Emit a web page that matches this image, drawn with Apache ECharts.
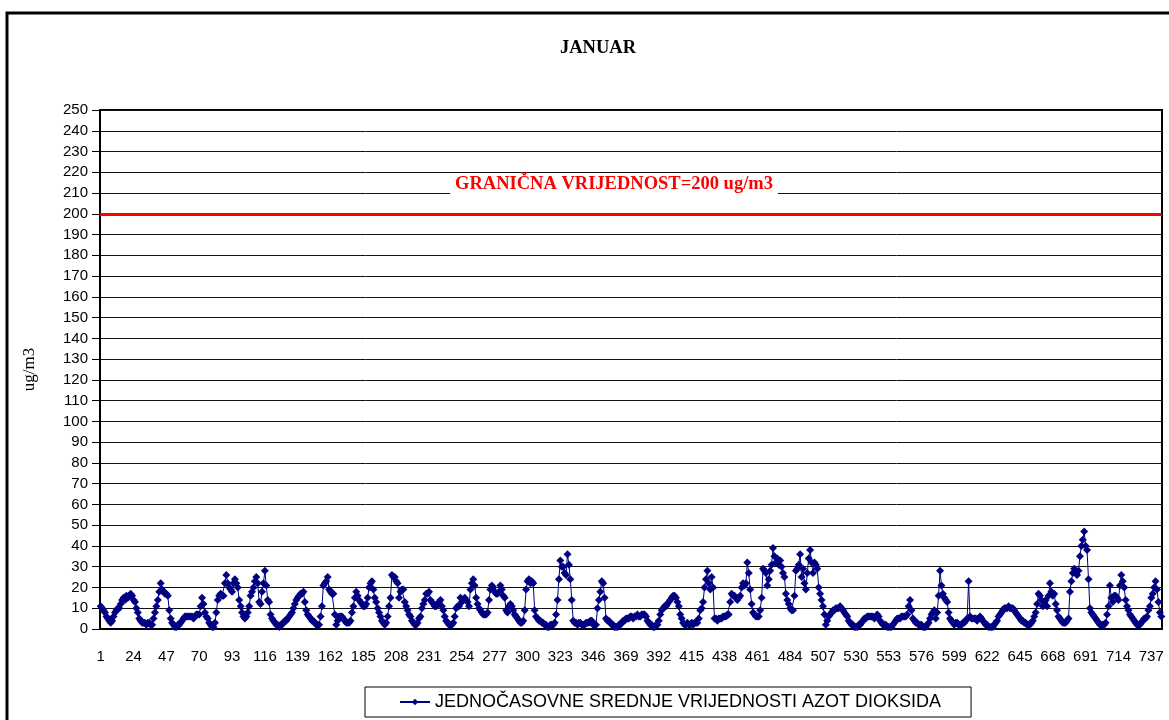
<!DOCTYPE html>
<html>
<head>
<meta charset="utf-8">
<title>JANUAR</title>
<script src="https://cdn.jsdelivr.net/npm/echarts@6/dist/echarts.min.js"></script>
<style>
    html, body { margin: 0; padding: 0; background: #fff; }
    #main { width: 1169px; height: 720px; }
</style>
</head>
<body>
<div id="main"></div>
<script>
    // hourly NO2 values (ug/m3), January in chunks
    const no2Part1 = [
        11, 10, 9, 8, 6, 5, 4, 3, 4, 6,
        8, 9, 10, 10, 12, 14, 15, 14, 16, 15,
        16, 17, 16, 14, 13, 10, 8, 5, 4, 3,
        3, 3, 2, 3, 3, 2, 2, 5, 8, 11,
        14, 18, 22, 19, 18, 17, 17, 16, 9, 5,
        3, 2, 1, 1, 2, 2, 3, 4, 5, 6,
        6, 6, 6, 6, 6, 5, 6, 7, 7, 7,
        11, 15, 12, 8, 6, 5, 3, 2, 1, 1,
        3, 8, 14, 16, 17, 16, 16, 22, 26, 22,
        20, 19, 18, 22
    ]
    const no2Part2 = [
        24, 22, 20, 14, 11, 8,
        6, 5, 6, 8, 11, 16, 18, 20, 23, 25,
        22, 13, 12, 18, 22, 28, 21, 14, 13, 7,
        5, 4, 3, 2, 2, 1, 2, 2, 3, 4,
        4, 5, 6, 7, 8, 10, 12, 14, 15, 16,
        17, 17, 18, 13, 9, 7, 6, 5, 4, 4,
        3, 2, 2, 2, 6, 11, 21, 22, 23, 25,
        19, 18, 17, 17, 7, 2, 4, 6, 6, 6,
        5, 4, 3, 3, 3, 4, 8, 11, 15, 18,
        16, 14, 13, 12, 11, 11, 12, 15, 20, 22
    ]
    const no2Part3 = [
        23, 19, 15, 13, 10, 8, 6, 4, 3,
        2, 3, 6, 11, 15, 26, 25, 25, 23, 22,
        15, 18, 19, 19, 13, 11, 9, 7, 6, 4,
        3, 2, 2, 3, 5, 6, 10, 12, 14, 17,
        17, 18, 14, 13, 12, 11, 11, 12, 13, 14,
        11, 9, 6, 4, 3, 2, 2, 2, 3, 6,
        10, 11, 11, 15, 13, 14, 15, 14, 13, 11,
        19, 22, 24, 21, 15, 12, 10, 9, 8, 7,
        7, 7, 8, 14, 19, 21, 20, 18, 17, 17,
        18, 21, 19, 16, 15
    ]
    const no2Part4 = [
        9, 8, 11, 12, 11,
        9, 7, 6, 5, 4, 3, 3, 4, 9, 19,
        23, 24, 22, 23, 22, 9, 6, 5, 4, 4,
        3, 3, 2, 2, 1, 1, 2, 2, 2,
        3, 7, 14, 24, 33, 30, 30, 27, 26, 36,
        31, 24, 14, 4, 3, 3, 2, 3, 3, 2,
        2, 2, 3, 3, 3, 4, 4, 2, 2, 2,
        10, 14, 18, 23, 22, 15, 5, 4, 4, 3,
        2, 2, 1, 1, 1, 2, 2, 3, 4,
        4, 5, 5, 5, 6, 6, 5, 6, 6, 7
    ]
    const no2Part5 = [
        6, 6, 7, 7, 7, 6, 4, 3, 2, 2,
        1, 1, 2, 2, 4, 7, 9, 10, 11, 11,
        12, 13, 14, 15, 16, 16, 15, 13, 11, 7,
        5, 3, 2, 2, 3, 2, 2, 3, 2,
        3, 3, 3, 5, 9, 10, 13, 20, 24, 28,
        22, 19, 25, 20, 5, 5, 4, 5, 5, 5,
        6, 6, 6, 7, 7, 13, 17, 16, 16, 15,
        14, 15, 16, 20, 22, 21, 22, 32, 27, 19,
        12, 8, 7, 6, 6, 6, 9, 15, 29, 28,
        27, 21, 24, 28, 31, 39
    ]
    const no2Part6 = [
        35, 32, 34, 31,
        33, 30, 27, 25, 17, 14, 12, 10, 9, 9,
        16, 28, 29, 31, 36, 25, 29, 22, 19, 27,
        34, 38, 32, 27, 32, 31, 29, 20, 17, 14,
        11, 7, 2, 4, 6, 7, 8, 9, 9, 10,
        10, 10, 11, 10, 9, 8, 7, 6, 4, 3,
        2, 2, 1, 1, 1, 2, 2, 3, 4,
        5, 5, 6, 6, 6, 6, 6, 5, 6, 7,
        6, 4, 3, 2, 2, 2, 1, 1, 1, 1,
        2, 3, 4, 5, 5, 5, 6, 6, 6, 6, 7
    ]
    const no2Part7 = [
        11, 14, 9, 5, 4, 3, 3, 2, 2,
        2, 1, 1, 1, 2, 3, 5, 7, 8, 9,
        5, 8, 16, 28, 21, 17, 15, 14, 13, 8,
        5, 4, 3, 2, 3, 3, 2, 2, 2, 3,
        3, 4, 5, 23, 6, 5, 5, 5, 5, 4,
        5, 6, 5, 4, 3, 2, 2, 1, 1,
        1, 1, 2, 3, 4, 6, 7, 8, 9, 10,
        10, 10, 11, 10, 10, 10, 9, 8, 7, 6,
        5, 4, 4, 3, 3, 2, 2, 2, 3, 4,
        6, 8, 12
    ]
    const no2Part8 = [
        17, 16, 14, 11, 12, 14, 11, 16, 22, 18,
        16, 17, 12, 9, 6, 5, 4, 3, 3, 3,
        4, 5, 18, 23, 27, 29, 27, 26, 28, 35,
        40, 43, 47, 40, 38, 24, 10, 8, 7, 6,
        5, 4, 3, 2, 2, 2, 2, 3, 7, 11,
        21, 15, 13, 16, 16, 15, 14, 21, 26, 23,
        20, 14, 11, 9, 7, 6, 5, 4, 3, 2,
        2, 2, 3, 4, 5, 5, 6, 9, 11, 15,
        17, 20, 23, 19, 13, 8, 6
    ]

    const seriesName = 'JEDNOČASOVNE SREDNJE VRIJEDNOSTI AZOT DIOKSIDA'
    const limitValue = 200
    const limitText = 'GRANIČNA VRIJEDNOST=200 ug/m3'
    const labelStep = 23   // x labels 1, 24, 47, ...
    const yMin = 0, yMax = 250, yStep = 10

    const no2Values = [].concat(no2Part1, no2Part2, no2Part3, no2Part4,
        no2Part5, no2Part6, no2Part7, no2Part8)
    const hours = no2Values.map((v, i) => String(i + 1))

    const myChart = echarts.init(document.getElementById('main'), null, {renderer: 'canvas'})

    const option = {
        animation: false,
        backgroundColor: '#fff',
        textStyle: {fontFamily: 'Liberation Sans', color: '#000'},
        title: {
            text: 'JANUAR',
            left: 555,
            top: 34,
            textStyle: {fontFamily: 'Liberation Serif', fontSize: 18.5, fontWeight: 'bold', color: '#000'}
        },
        grid: {
            left: 100, top: 110, right: 7, bottom: 91,
            show: true, borderColor: '#000', borderWidth: 2, backgroundColor: '#fff'
        },
        legend: {
            data: [seriesName],
            left: 365,
            top: 687,
            borderColor: '#000',
            borderWidth: 1,
            padding: [6, 30, 6, 34],
            itemWidth: 30,
            itemHeight: 8,
            textStyle: {fontFamily: 'Liberation Sans', fontSize: 18, color: '#000'}
        },
        xAxis: {
            type: 'category',
            data: hours,
            boundaryGap: true,
            axisLine: {lineStyle: {color: '#000', width: 2}},
            axisTick: {interval: 4, length: 6, lineStyle: {color: '#000'}},
            axisLabel: {interval: labelStep - 1, color: '#000', fontSize: 15, margin: 20},
            splitLine: {show: false}
        },
        yAxis: {
            type: 'value',
            min: yMin,
            max: yMax,
            interval: yStep,
            name: 'ug/m3',
            nameLocation: 'middle',
            nameGap: 62,
            nameTextStyle: {fontFamily: 'Liberation Serif', fontSize: 17, color: '#000'},
            axisLine: {show: true, lineStyle: {color: '#000', width: 2}},
            axisTick: {show: true, length: 8, lineStyle: {color: '#000'}},
            axisLabel: {color: '#000', fontSize: 15, margin: 12},
            splitLine: {lineStyle: {color: '#111', width: 1}}
        },
        series: [
            {
                name: seriesName,
                type: 'line',
                data: no2Values,
                symbol: 'diamond',
                symbolSize: 8,
                showAllSymbol: true,
                lineStyle: {color: '#000080', width: 1},
                itemStyle: {color: '#000080'},
                markLine: {
                    silent: true,
                    symbol: 'none',
                    lineStyle: {color: '#ff0000', width: 3, type: 'solid'},
                    label: {
                        formatter: limitText,
                        position: 'insideMiddleTop',
                        distance: 19,
                        offset: [-17, 0],
                        color: '#ff0000',
                        fontFamily: 'Liberation Serif',
                        fontWeight: 'bold',
                        fontSize: 18.5,
                        backgroundColor: '#fff',
                        padding: [1, 5, 1, 5]
                    },
                    data: [{yAxis: limitValue}]
                }
            }
        ],
        graphic: [
            {
                type: 'rect',
                silent: true,
                z: 100,
                shape: {x: 7, y: 13, width: 1200, height: 760},
                style: {fill: 'none', stroke: '#000', lineWidth: 3}
            }
        ]
    }

    myChart.setOption(option)
</script>
</body>
</html>
